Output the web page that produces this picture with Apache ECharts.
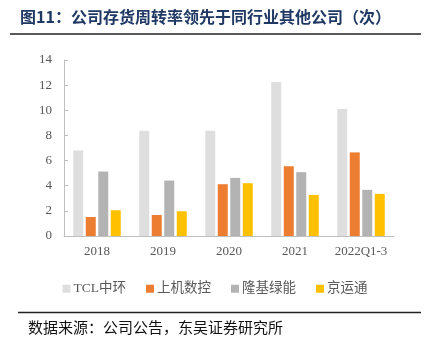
<!DOCTYPE html>
<html><head><meta charset="utf-8">
<script src="https://cdn.jsdelivr.net/npm/echarts@6/dist/echarts.min.js"></script>
<style>html,body{margin:0;padding:0;background:#fff}#c{width:430px;height:357px}</style>
</head><body><div id="c"></div>
<script>
const categories = ['2018','2019','2020','2021','2022Q1-3'];
const seriesNames = ['TCL中环','上机数控','隆基绿能','京运通'];
const tcl = [6.8, 8.37, 8.37, 12.25, 10.1];
const shangji = [1.51, 1.67, 4.12, 5.55, 6.65];
const longji = [5.13, 4.41, 4.62, 5.08, 3.67];
const jingyuntong = [2.05, 1.97, 4.2, 3.27, 3.35];
const yTicks = [0, 2, 4, 6, 8, 10, 12, 14];
const colors = ['#dedede', '#ed7d31', '#b3b3b3', '#ffc000'];
const values = [tcl, shangji, longji, jingyuntong];

const chart = echarts.init(document.getElementById('c'), null, {renderer: 'canvas'});
const serif = '"Liberation Serif", "Noto Sans CJK SC", serif';
chart.setOption({
  animation: false,
  grid: {left: 64, right: 36, top: 60, bottom: 121},
  xAxis: {
    type: 'category', data: categories,
    axisLine: {lineStyle: {color: '#bfbfbf', width: 1}},
    axisTick: {show: false},
    axisLabel: {color: '#595959', fontFamily: serif, fontSize: 13, margin: 9, interval: 0}
  },
  yAxis: {
    type: 'value', min: yTicks[0], max: yTicks[yTicks.length-1], interval: 2,
    axisLine: {show: true, lineStyle: {color: '#bfbfbf'}},
    axisTick: {show: true, inside: true, length: 4, lineStyle: {color: '#bfbfbf'}},
    splitLine: {show: false},
    axisLabel: {color: '#595959', fontFamily: serif, fontSize: 13, margin: 12}
  },
  legend: {
    top: 277, left: 'center',
    itemWidth: 8, itemHeight: 8, itemGap: 20,
    icon: 'rect',
    textStyle: {color: '#595959', fontFamily: serif, fontSize: 13.5, padding: [0,0,0,-2]},
    data: seriesNames
  },
  series: seriesNames.map((n, i) => ({
    name: n, type: 'bar', data: values[i],
    barWidth: 10, barGap: '25%',
    itemStyle: {color: colors[i]}
  })),
  graphic: [
    {type: 'text', left: 20, top: 9, style: {text: '图11：公司存货周转率领先于同行业其他公司（次）', fill: '#1f3864', font: 'bold 16px "Noto Sans CJK SC"'}},
    {type: 'line', shape: {x1: 10, y1: 34, x2: 421, y2: 34}, style: {stroke: '#222', lineWidth: 1.5}},
    {type: 'line', shape: {x1: 18, y1: 312.5, x2: 421, y2: 312.5}, style: {stroke: '#222', lineWidth: 1.5}},
    {type: 'text', left: 28, top: 320, style: {text: '数据来源：公司公告，东吴证券研究所', fill: '#111', font: '15px "Noto Sans CJK SC"'}}
  ]
});
</script></body></html>
